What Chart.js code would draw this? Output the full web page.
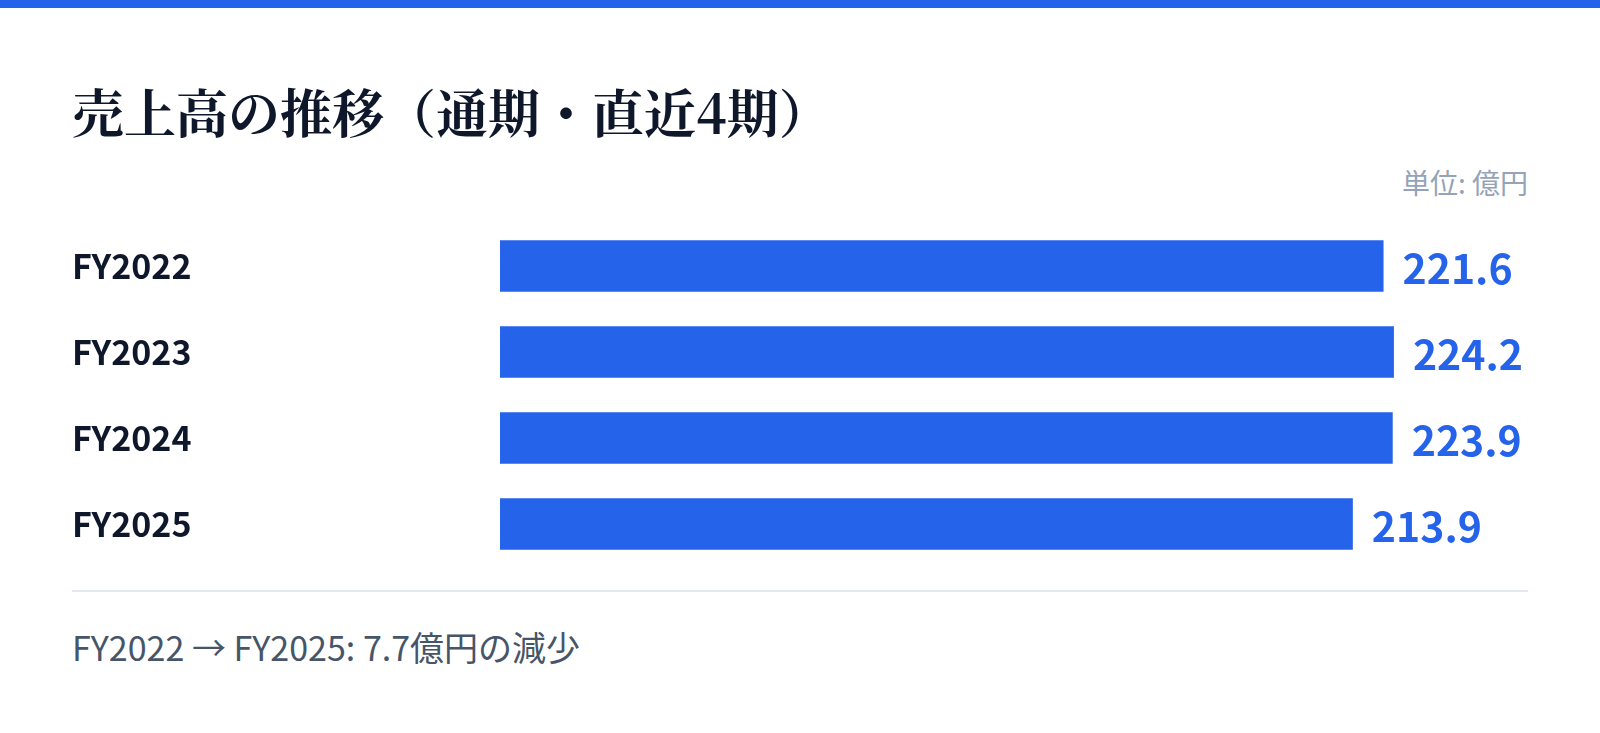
<!DOCTYPE html>
<html lang="ja">
<head>
<meta charset="utf-8">
<title>売上高の推移</title>
<script src="https://cdn.jsdelivr.net/npm/chart.js@4.4.1/dist/chart.umd.min.js"></script>
<style>
  html, body { margin: 0; padding: 0; background: #fff; }
  body { width: 1600px; height: 733px; position: relative; overflow: hidden;
         font-family: "Noto Sans CJK JP", "Noto Sans", sans-serif; }
  .topbar { position: absolute; left: 0; top: 0; width: 1600px; height: 8px; background: #2563eb; }
  h1 { position: absolute; left: 72px; top: 85px; margin: 0; font-size: 52px; line-height: 1;
       font-weight: 700; color: #0f172a;
       font-family: "Noto Serif CJK JP", "Noto Serif JP", "DejaVu Serif", serif; }
  .unit { position: absolute; right: 72px; top: 168px; font-size: 28px; line-height: 1; color: #94a3b8; }
  .wrap { position: absolute; left: 72px; top: 223px; width: 1456px; height: 344px; }
  .rule { position: absolute; left: 72px; top: 590px; width: 1456px; height: 2px; background: #e2e8f0; }
  .note { position: absolute; left: 72px; top: 630px; font-size: 34px; line-height: 1; color: #475569; }
</style>
</head>
<body>
<div class="topbar"></div>
<h1>売上高の推移（通期・直近4期）</h1>
<div class="unit">単位: 億円</div>
<div class="wrap"><canvas id="salesChart" width="1456" height="344"></canvas></div>
<div class="rule"></div>
<div class="note" id="note"></div>

<script>
var years = ["FY2022", "FY2023", "FY2024", "FY2025"];
var sales = [221.6, 224.2, 223.9, 213.9];

var blue = "#2563eb";

// footer: change between first and last period
var diff = sales[sales.length - 1] - sales[0];
document.getElementById("note").textContent =
    years[0] + " \u2192 " + years[years.length - 1] + ": " +
    Math.abs(diff).toFixed(1) + "億円の" + (diff < 0 ? "減少" : "増加");

// value labels to the right of each bar
var valueLabels = {
    id: "valueLabels",
    afterDatasetsDraw: function (chart) {
        var ctx = chart.ctx;
        var meta = chart.getDatasetMeta(0);
        ctx.save();
        ctx.font = "bold 41px 'Noto Sans CJK JP', 'Noto Sans', sans-serif";
        ctx.fillStyle = blue;
        ctx.textAlign = "left";
        ctx.textBaseline = "middle";
        meta.data.forEach(function (bar, i) {
            ctx.fillText(sales[i].toFixed(1), bar.x + 19, bar.y + 2);
        });
        ctx.restore();
    }
};

var salesChart = new Chart(document.getElementById("salesChart"), {
    type: "bar",
    data: {
        labels: years,
        datasets: [{
            data: sales,
            backgroundColor: blue,
            borderWidth: 0,
            barPercentage: 0.6,
            categoryPercentage: 1.0
        }]
    },
    options: {
        indexAxis: "y",
        responsive: false,
        animation: false,
        devicePixelRatio: 1,
        layout: { padding: 0 },
        plugins: {
            legend: { display: false },
            tooltip: { enabled: false }
        },
        scales: {
            x: {
                display: false,
                min: 0,
                max: Math.max.apply(null, sales) * 1.15
            },
            y: {
                grid: { display: false },
                border: { display: false },
                afterFit: function (scale) {
                    scale.width = 428;
                    // categories fill the full height
                    scale.paddingTop = 0;
                    scale.paddingBottom = 0;
                },
                ticks: {
                    crossAlign: "far",
                    color: "#0f172a",
                    font: { family: "'Noto Sans CJK JP', 'Noto Sans', sans-serif", size: 34, weight: "bold" }
                }
            }
        }
    },
    plugins: [valueLabels]
});
</script>
</body>
</html>
